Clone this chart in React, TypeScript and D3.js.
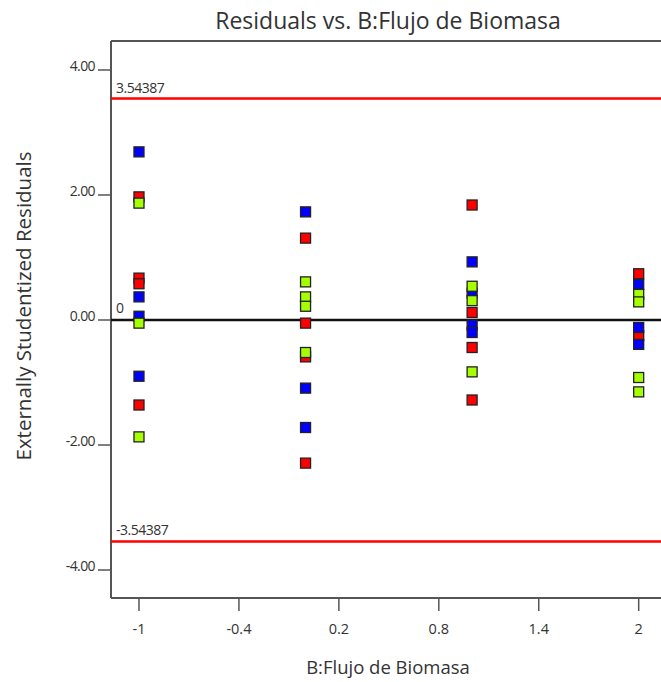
import React from "react";
import * as d3 from "d3";

const W = 661;
const H = 682;

const yTicks = [4, 2, 0, -2, -4];
const xTicks = [-1, -0.4, 0.2, 0.8, 1.4, 2];
const limit = 3.54387;

// residuals per run colour (x = coded B level)
const redX = [-1, -1, -1, -1, 0, 0, 0, 0, 1, 1, 1, 1, 2, 2];
const redY = [1.97, 0.67, 0.58, -1.36, 1.31, -0.05, -0.59, -2.29, 1.84, 0.12, -0.44, -1.28, 0.74, -0.25];
const blueX = [-1, -1, -1, -1, 0, 0, 0, 1, 1, 1, 1, 2, 2, 2];
const blueY = [2.69, 0.37, 0.06, -0.9, 1.73, -1.09, -1.72, 0.93, 0.43, -0.08, -0.2, 0.57, -0.12, -0.39];
const greenX = [-1, -1, -1, 0, 0, 0, 0, 1, 1, 1, 2, 2, 2, 2];
const greenY = [1.87, -0.05, -1.87, 0.61, 0.37, 0.22, -0.52, 0.54, 0.31, -0.83, 0.41, 0.29, -0.92, -1.15];

const series = [
  { name: "red", color: "#ff0000", xs: redX, ys: redY },
  { name: "blue", color: "#0000ff", xs: blueX, ys: blueY },
  { name: "green", color: "#a6ff00", xs: greenX, ys: greenY },
];

const left = 111;
const top = 41;
const bottom = 598;
const right = 672;

export default function App() {
  const x = d3.scaleLinear().domain([-1.168, 2.2]).range([left, right]);
  const y = d3.scaleLinear().domain([-4.448, 4.464]).range([bottom, top]);
  const font = "'Open Sans', 'Noto Sans', sans-serif";
  const fmtY = (v: number) => v.toFixed(2);
  const fmtX = (v: number) => String(+v.toFixed(1));
  const sz = 10;
  return (
    <svg
      width={W}
      height={H}
      style={{ position: "absolute", left: 0, top: 0, background: "#fff" }}
      fontFamily={font}
    >
      <text x={388} y={29} textAnchor="middle" fontSize={23} fill="#333">
        Residuals vs. B:Flujo de Biomasa
      </text>
      {/* frame */}
      <line x1={left} x2={W} y1={top} y2={top} stroke="#555" strokeWidth={2} />
      <line x1={left} x2={left} y1={top} y2={bottom} stroke="#555" strokeWidth={2} />
      <line x1={left} x2={W} y1={bottom} y2={bottom} stroke="#555" strokeWidth={2} />
      {/* y ticks */}
      {yTicks.map((t) => (
        <g key={"y" + t}>
          <line x1={98} x2={left} y1={y(t)} y2={y(t)} stroke="#555" strokeWidth={1.5} />
          <text x={95} y={y(t)} dy="0.05em" textAnchor="end" fontSize={14} fill="#333" letterSpacing={-0.6}>
            {fmtY(t)}
          </text>
        </g>
      ))}
      {/* x ticks */}
      {xTicks.map((t) => (
        <g key={"x" + t}>
          <line x1={x(t)} x2={x(t)} y1={bottom} y2={bottom + 13} stroke="#555" strokeWidth={1.5} />
          <text x={x(t)} y={634} textAnchor="middle" fontSize={14.5} fill="#333">
            {fmtX(t)}
          </text>
        </g>
      ))}
      {/* limit lines */}
      <line x1={left} x2={W} y1={y(limit)} y2={y(limit)} stroke="#ff0000" strokeWidth={2.5} />
      <line x1={left} x2={W} y1={y(-limit)} y2={y(-limit)} stroke="#ff0000" strokeWidth={2.5} />
      <text x={116} y={y(limit) - 6} fontSize={14} fill="#333" letterSpacing={-0.5}>
        {limit.toString()}
      </text>
      <text x={116} y={y(-limit) - 6} fontSize={14} fill="#333" letterSpacing={-0.5}>
        {(-limit).toString()}
      </text>
      {/* zero line */}
      <line x1={left} x2={W} y1={y(0)} y2={y(0)} stroke="#111" strokeWidth={2.5} />
      <text x={116} y={y(0) - 7} fontSize={14} fill="#333">
        0
      </text>
      {/* points */}
      {series.map((s) =>
        s.xs.map((xv, i) => (
          <rect
            key={s.name + i}
            x={x(xv) - sz / 2}
            y={y(s.ys[i]) - sz / 2}
            width={sz}
            height={sz}
            fill={s.color}
            stroke="#222"
            strokeWidth={1.3}
          />
        ))
      )}
      {/* axis titles */}
      <text
        transform={`translate(31,${306}) rotate(-90)`}
        textAnchor="middle"
        fontSize={20.5}
        fill="#333"
      >
        Externally Studentized Residuals
      </text>
      <text x={388} y={674} textAnchor="middle" fontSize={18.5} fill="#333">
        B:Flujo de Biomasa
      </text>
    </svg>
  );
}
